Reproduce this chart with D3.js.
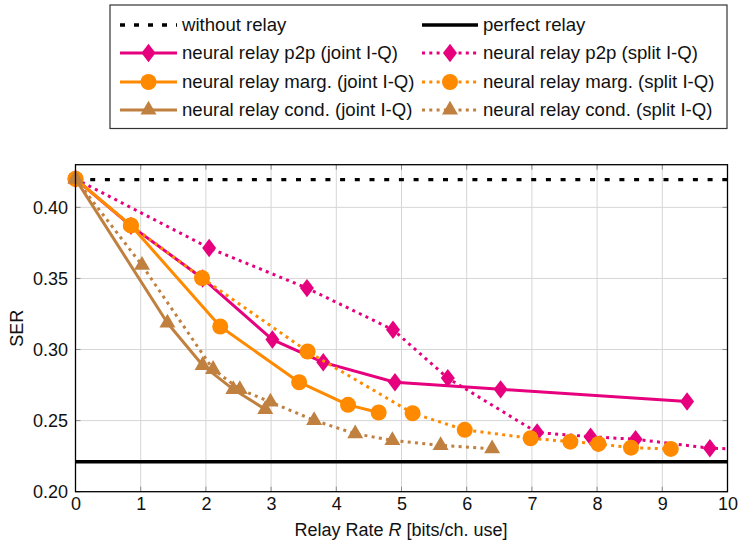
<!DOCTYPE html>
<html>
<head>
<meta charset="utf-8">
<script src="https://cdn.jsdelivr.net/npm/d3@7"></script>
<style>
  html, body { margin: 0; padding: 0; background: #fff; }
  svg { display: block; font-family: "Liberation Sans", Arial, sans-serif; }
</style>
</head>
<body>
<svg id="chart" width="738" height="542"></svg>
<script>
// Relay rate (bits per channel use) and symbol error rate of each relay scheme
const withoutRelaySER = 0.4195;
const perfectRelaySER = 0.2211;

const p2pJointX = [0, 0.85, 1.95, 3.02, 3.80, 4.90, 6.52, 9.38];
const p2pJointY = [0.420, 0.387, 0.350, 0.307, 0.291, 0.277, 0.272, 0.2634];

const p2pSplitX = [0, 2.05, 3.55, 4.87, 5.71, 7.08, 7.90, 8.59, 9.73, 10.5];
const p2pSplitY = [0.420, 0.3714, 0.3432, 0.3139, 0.2799, 0.2416, 0.2387, 0.2369, 0.2306, 0.2296];

const margJointX = [0, 0.85, 2.22, 3.43, 4.18, 4.65];
const margJointY = [0.420, 0.3873, 0.3162, 0.2770, 0.2611, 0.2557];

const margSplitX = [0, 0.85, 1.94, 3.56, 5.17, 5.97, 6.98, 7.59, 8.02, 8.52, 9.13];
const margSplitY = [0.420, 0.3873, 0.3503, 0.2986, 0.2552, 0.2435, 0.2376, 0.2352, 0.2336, 0.2310, 0.2301];

const condJointX = [0, 1.41, 1.95, 2.42, 2.91];
const condJointY = [0.420, 0.3187, 0.2889, 0.2720, 0.2579];

const condSplitX = [0, 1.02, 2.11, 2.52, 2.99, 3.66, 4.29, 4.86, 5.60, 6.39];
const condSplitY = [0.420, 0.3593, 0.2861, 0.2720, 0.2631, 0.2502, 0.2408, 0.2361, 0.2326, 0.2302];

const xTickValues = [0, 1, 2, 3, 4, 5, 6, 7, 8, 9, 10];
const yTickValues = [0.20, 0.25, 0.30, 0.35, 0.40];

const legendLabels = [
  "without relay", "perfect relay",
  "neural relay p2p (joint I-Q)", "neural relay p2p (split I-Q)",
  "neural relay marg. (joint I-Q)", "neural relay marg. (split I-Q)",
  "neural relay cond. (joint I-Q)", "neural relay cond. (split I-Q)"
];

const MAGENTA = "#e6007e";
const ORANGE = "#ff8a00";
const BROWN = "#c08040";

const svg = d3.select("#chart");
const plot = { left: 75.5, right: 727.5, top: 164.7, bottom: 491.7 };

const x = d3.scaleLinear().domain([0, 10]).range([plot.left, plot.right]);
const y = d3.scaleLinear().domain([0.20, 0.43]).range([plot.bottom, plot.top]);

svg.append("defs").append("clipPath").attr("id", "plotClip")
  .append("rect")
  .attr("x", plot.left).attr("y", plot.top)
  .attr("width", plot.right - plot.left).attr("height", plot.bottom - plot.top);

// grid
const grid = svg.append("g");
grid.selectAll("line.vx").data(xTickValues.slice(1, -1)).join("line")
  .attr("x1", d => x(d)).attr("x2", d => x(d))
  .attr("y1", plot.top).attr("y2", plot.bottom)
  .attr("stroke", "#d6d6d6").attr("stroke-width", 1);
grid.selectAll("line.hy").data(yTickValues.slice(1)).join("line")
  .attr("x1", plot.left).attr("x2", plot.right)
  .attr("y1", d => y(d)).attr("y2", d => y(d))
  .attr("stroke", "#d6d6d6").attr("stroke-width", 1);

// inward tick marks on all four sides
const tickLen = 5;
const ticks = svg.append("g").attr("stroke", "#8c8c8c").attr("stroke-width", 1);
xTickValues.forEach(v => {
  ticks.append("line").attr("x1", x(v)).attr("x2", x(v)).attr("y1", plot.bottom).attr("y2", plot.bottom - tickLen);
  ticks.append("line").attr("x1", x(v)).attr("x2", x(v)).attr("y1", plot.top).attr("y2", plot.top + tickLen);
});
yTickValues.forEach(v => {
  ticks.append("line").attr("x1", plot.left).attr("x2", plot.left + tickLen).attr("y1", y(v)).attr("y2", y(v));
  ticks.append("line").attr("x1", plot.right).attr("x2", plot.right - tickLen).attr("y1", y(v)).attr("y2", y(v));
});

// axis labels via d3 axes (domain/tick lines hidden, text only)
const xAxis = d3.axisBottom(x).tickValues(xTickValues).tickFormat(d3.format("d")).tickSize(0).tickPadding(0);
const gx = svg.append("g").attr("transform", `translate(0,${plot.bottom})`).call(xAxis);
gx.select(".domain").remove();
gx.selectAll("text").attr("font-size", 18).attr("fill", "#111")
  .attr("font-family", "Liberation Sans, Arial, sans-serif")
  .attr("dy", null).attr("y", 18.5);

const yAxis = d3.axisLeft(y).tickValues(yTickValues).tickFormat(d3.format(".2f")).tickSize(0).tickPadding(7.5);
const gy = svg.append("g").attr("transform", `translate(${plot.left},0)`).call(yAxis);
gy.select(".domain").remove();
gy.selectAll("text").attr("font-size", 18).attr("fill", "#111")
  .attr("font-family", "Liberation Sans, Arial, sans-serif");

// axis titles
const xTitle = svg.append("text").attr("x", 401).attr("y", 536)
  .attr("text-anchor", "middle").attr("font-size", 18).attr("fill", "#111");
xTitle.append("tspan").text("Relay Rate ");
xTitle.append("tspan").attr("font-style", "italic").text("R");
xTitle.append("tspan").text(" [bits/ch. use]");

svg.append("text")
  .attr("transform", `translate(23,${(plot.top + plot.bottom) / 2}) rotate(-90)`)
  .attr("text-anchor", "middle").attr("font-size", 18).attr("fill", "#111")
  .text("SER");

// marker shapes
function markerPath(kind) {
  if (kind === "diamond") return "M0,-9.2L7,0L0,9.2L-7,0Z";
  if (kind === "circle") return d3.symbol(d3.symbolCircle, Math.PI * 8 * 8)();
  if (kind === "triangle") return "M0,-9.2L8,4.6L-8,4.6Z";
  return "";
}

const DOTTED = "3,4.3";
const series = [
  { xs: p2pJointX, ys: p2pJointY, color: MAGENTA, dash: null, marker: "diamond" },
  { xs: p2pSplitX, ys: p2pSplitY, color: MAGENTA, dash: DOTTED, marker: "diamond" },
  { xs: margJointX, ys: margJointY, color: ORANGE, dash: null, marker: "circle" },
  { xs: margSplitX, ys: margSplitY, color: ORANGE, dash: DOTTED, marker: "circle" },
  { xs: condJointX, ys: condJointY, color: BROWN, dash: null, marker: "triangle" },
  { xs: condSplitX, ys: condSplitY, color: BROWN, dash: DOTTED, marker: "triangle" }
];

const plotLayer = svg.append("g");
const clipped = plotLayer.append("g").attr("clip-path", "url(#plotClip)");

// reference levels
clipped.append("line")
  .attr("x1", x(0)).attr("x2", x(10))
  .attr("y1", y(withoutRelaySER)).attr("y2", y(withoutRelaySER))
  .attr("stroke", "#000").attr("stroke-width", 3.4).attr("stroke-dasharray", "5,9.7");
clipped.append("line")
  .attr("x1", x(0)).attr("x2", x(10))
  .attr("y1", y(perfectRelaySER)).attr("y2", y(perfectRelaySER))
  .attr("stroke", "#000").attr("stroke-width", 3.6);

const line = d3.line().x(d => x(d[0])).y(d => y(d[1]));

series.forEach(s => {
  const pts = s.xs.map((v, i) => [v, s.ys[i]]);
  const g = plotLayer.append("g");
  g.append("path").attr("d", line(pts))
    .attr("clip-path", "url(#plotClip)")
    .attr("fill", "none").attr("stroke", s.color)
    .attr("stroke-width", 3)
    .attr("stroke-dasharray", s.dash)
    .attr("stroke-linejoin", "round");
  g.selectAll("path.mk").data(pts.filter(p => p[0] <= 10)).join("path")
    .attr("class", "mk")
    .attr("d", markerPath(s.marker))
    .attr("transform", d => `translate(${x(d[0])},${y(d[1])})`)
    .attr("fill", s.color);
});

// plot frame
svg.append("rect")
  .attr("x", plot.left).attr("y", plot.top)
  .attr("width", plot.right - plot.left).attr("height", plot.bottom - plot.top)
  .attr("fill", "none").attr("stroke", "#000").attr("stroke-width", 1.3);

// legend
const legend = svg.append("g");
legend.append("rect").attr("x", 110).attr("y", 5).attr("width", 617).attr("height", 123.5)
  .attr("fill", "#fff").attr("stroke", "#333").attr("stroke-width", 1.2);

const legendRows = [25, 53, 82, 110];
const legendCols = [{ x1: 120, x2: 177, tx: 182 }, { x1: 422, x2: 478, tx: 483 }];
const legendStyles = [
  { color: "#000", dash: "5,9", width: 3.4, marker: null },
  { color: "#000", dash: null, width: 3.6, marker: null },
  ...series.map(s => ({ color: s.color, dash: s.dash, width: 3, marker: s.marker }))
];

legendLabels.forEach((label, i) => {
  const col = legendCols[i % 2];
  const cy = legendRows[Math.floor(i / 2)];
  const st = legendStyles[i];
  legend.append("line")
    .attr("x1", col.x1).attr("x2", col.x2).attr("y1", cy).attr("y2", cy)
    .attr("stroke", st.color).attr("stroke-width", st.width)
    .attr("stroke-dasharray", st.dash);
  if (st.marker) {
    legend.append("path").attr("d", markerPath(st.marker))
      .attr("transform", `translate(${(col.x1 + col.x2) / 2},${cy})`)
      .attr("fill", st.color);
  }
  legend.append("text").attr("x", col.tx).attr("y", cy).attr("dy", "0.33em")
    .attr("font-size", 18.6).attr("fill", "#111").text(label);
});
</script>
</body>
</html>
